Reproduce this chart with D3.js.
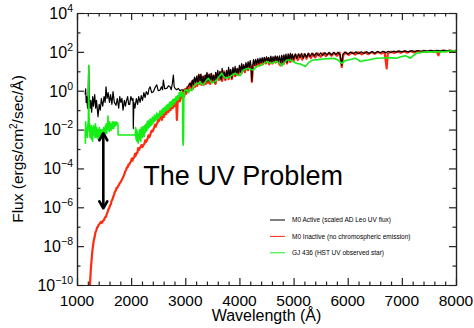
<!DOCTYPE html>
<html>
<head>
<meta charset="utf-8">
<script src="https://cdn.jsdelivr.net/npm/d3@7"></script>
<style>
  body { margin: 0; background: #fff; }
  svg { display: block; font-family: "Liberation Sans", Arial, Helvetica, sans-serif; }
  .axis path, .axis line { stroke: #222; stroke-width: 1.2; }
</style>
</head>
<body>
<div id="chart"></div>
<script>
// wavelength (Angstrom), log10 flux (ergs/cm2/sec/A)

// M0 Active (scaled AD Leo UV flux)
const activeSpectrum = [
  [1150, -0.2], [1160, 0.1], [1170, -0.6], [1180, -0.3], [1195, -0.9], [1205, -0.4], [1216, 1.3], [1225, -0.2],
  [1240, -0.9], [1255, -0.5], [1270, -1.1], [1290, -0.3], [1305, -0.8], [1327, -0.2], [1345, -0.9], [1360, -0.5],
  [1388, -1.34], [1410, -0.7], [1430, -1.0], [1450, -0.4], [1475, -0.8], [1500, -0.3], [1520, -0.6], [1536, 0.2],
  [1555, -0.4], [1575, -0.1], [1600, -0.6], [1620, -0.2], [1645, -0.7], [1665, -0.05], [1690, -0.6], [1720, -0.75],
  [1745, -0.4], [1770, -0.9], [1790, -0.3], [1810, -0.6], [1830, -0.4], [1850, -1.0], [1875, -0.5], [1895, -0.8],
  [1911, -0.55], [1935, -0.3], [1955, -0.7], [1974, -0.7], [1995, -0.3], [2020, -0.5], [2035, -0.4], [2040, -1.95],
  [2050, -0.6], [2070, -0.9], [2096, -0.4], [2120, -0.7], [2140, -0.3], [2165, -0.6], [2188, -0.25], [2210, -0.5],
  [2235, -0.1], [2257, -0.35], [2280, -0.05], [2310, -0.2], [2330, 0.1], [2350, 0.2], [2380, -0.1], [2410, -0.05],
  [2440, 0.15], [2473, 0.3], [2500, 0.0], [2534, 0.03], [2560, 0.2], [2580, 0.05], [2595, 0.55], [2620, 0.1],
  [2658, 0.12], [2690, 0.25], [2719, 0.2], [2740, 0.05], [2760, 0.35], [2780, 0.8], [2795, 0.2], [2811, 0.12],
  [2840, 0.05], [2872, 0.12], [2900, 0.0], [2930, 0.05], [2965, 0.03], [3000, -0.05], [3027, 0.12], [3060, 0.25],
  [3090, 0.4], [3110, 0.2], [3130, 0.55], [3150, 0.3], [3170, 0.7], [3190, 0.4], [3210, 0.75], [3230, 0.35],
  [3250, 0.85], [3273, 0.5], [3290, 0.85], [3310, 0.4], [3330, 0.75], [3350, 0.35], [3370, 0.8], [3385, 0.45],
  [3400, 0.95], [3420, 0.5], [3440, 0.85], [3460, 0.45], [3480, 0.9], [3500, 0.55], [3520, 0.8], [3540, 0.4],
  [3560, 0.95], [3580, 0.6], [3600, 1.05], [3620, 0.65], [3640, 1.0], [3660, 0.55], [3680, 1.15], [3700, 0.7],
  [3720, 0.95], [3740, 0.6], [3760, 1.05], [3780, 0.7], [3800, 1.2], [3820, 0.75], [3840, 1.1], [3860, 0.65],
  [3880, 1.2], [3900, 0.85], [3920, 1.25], [3940, 0.8], [3960, 1.15], [3980, 0.9], [4000, 1.3], [4020, 0.95],
  [4040, 1.4], [4060, 1.0], [4080, 1.35], [4100, 1.05], [4120, 1.45], [4140, 1.1], [4160, 1.5], [4180, 1.2],
  [4200, 1.55], [4215, 1.25], [4230, 0.5], [4245, 1.3], [4260, 1.6], [4280, 1.3], [4300, 1.62], [4320, 1.35],
  [4340, 1.65], [4360, 1.4], [4380, 1.68], [4400, 1.45], [4420, 1.7], [4440, 1.45], [4460, 1.72], [4480, 1.5],
  [4500, 1.75], [4520, 1.5], [4540, 1.72], [4560, 1.45], [4580, 1.78], [4600, 1.5], [4620, 1.75], [4640, 1.45],
  [4660, 1.8], [4680, 1.55], [4700, 1.78], [4720, 1.5], [4740, 1.8], [4760, 1.4], [4780, 1.82], [4800, 1.45],
  [4820, 1.85], [4840, 1.5], [4860, 1.88], [4880, 1.45], [4900, 1.9], [4920, 1.55], [4940, 1.92], [4960, 1.6],
  [4980, 1.88], [5000, 1.62], [5030, 1.9], [5060, 1.65], [5090, 1.9], [5120, 1.7], [5150, 1.92], [5180, 1.68],
  [5210, 1.9], [5240, 1.72], [5270, 1.93], [5300, 1.75], [5340, 1.94], [5380, 1.78], [5420, 1.95], [5460, 1.8],
  [5500, 1.95], [5540, 1.82], [5580, 1.96], [5620, 1.84], [5660, 1.97], [5700, 1.85], [5740, 1.97], [5780, 1.86],
  [5820, 1.98], [5860, 1.85], [5890, 1.3], [5910, 1.88], [5950, 1.99], [6000, 1.88], [6050, 1.99], [6100, 1.9],
  [6150, 2.0], [6200, 1.9], [6250, 2.0], [6300, 1.91], [6350, 2.01], [6400, 1.92], [6450, 2.02], [6500, 1.93],
  [6550, 2.02], [6600, 1.95], [6650, 2.03], [6700, 1.95], [6750, 2.03], [6800, 1.97], [6850, 2.04], [6900, 1.98],
  [6950, 2.05], [7000, 1.99], [7060, 2.05], [7120, 2.0], [7180, 2.06], [7240, 2.01], [7300, 2.07], [7360, 2.03],
  [7420, 2.07], [7480, 2.04], [7540, 2.08], [7600, 2.04], [7660, 2.08], [7720, 2.05], [7780, 2.08], [7840, 2.06],
  [7900, 2.08], [7960, 2.06], [8000, 2.07]
];

// M0 Inactive (no chromospheric emission)
const inactiveSpectrum = [
  [1232, -10.4], [1245, -9.7], [1258, -9.1], [1270, -8.7], [1282, -8.3], [1295, -8.0], [1310, -7.7], [1325, -7.55],
  [1340, -7.3], [1355, -7.2], [1370, -7.05], [1385, -7.0], [1400, -6.9], [1420, -6.85], [1440, -6.75], [1460, -6.8],
  [1480, -6.7], [1500, -6.65], [1520, -6.5], [1535, -6.5], [1549, -6.35], [1565, -6.25], [1580, -6.1], [1595, -6.05],
  [1610, -5.9], [1625, -5.85], [1640, -5.65], [1655, -5.6], [1670, -5.45], [1685, -5.35], [1700, -5.2], [1715, -5.15],
  [1730, -5.0], [1745, -5.0], [1760, -4.9], [1775, -4.85], [1790, -4.75], [1808, -4.7], [1826, -4.6], [1843, -4.5],
  [1860, -4.4], [1875, -4.3], [1890, -4.15], [1905, -4.1], [1920, -3.95], [1935, -3.95], [1950, -3.8], [1965, -3.8],
  [1980, -3.7], [1995, -3.65], [2010, -3.5], [2025, -3.6], [2040, -3.45], [2055, -3.45], [2070, -3.25], [2085, -3.35],
  [2100, -3.2], [2115, -3.2], [2130, -2.95], [2145, -3.05], [2160, -2.95], [2175, -2.9], [2190, -2.8], [2208, -2.9],
  [2225, -2.8], [2242, -2.75], [2260, -2.55], [2275, -2.65], [2290, -2.55], [2305, -2.45], [2320, -2.3], [2335, -2.4],
  [2350, -2.3], [2365, -2.15], [2380, -2.05], [2395, -2.1], [2410, -2.0], [2425, -1.9], [2440, -1.75], [2456, -1.85],
  [2472, -1.7], [2486, -1.65], [2500, -1.5], [2516, -1.55], [2533, -1.4], [2550, -1.25], [2570, -1.5], [2590, -1.1],
  [2610, -1.35], [2630, -0.95], [2650, -1.2], [2670, -0.85], [2690, -1.1], [2710, -0.75], [2730, -1.0], [2750, -0.65],
  [2770, -0.9], [2790, -0.55], [2810, -0.8], [2830, -0.45], [2845, -1.5], [2860, -0.55], [2880, -0.3], [2900, -0.55],
  [2920, -0.15], [2940, -0.4], [2960, 0.0], [2980, -0.3], [3000, 0.1], [3020, -0.15], [3040, 0.2], [3060, -0.05],
  [3080, 0.35], [3100, 0.05], [3120, 0.45], [3140, 0.1], [3160, 0.55], [3180, 0.2], [3200, 0.6], [3220, 0.25],
  [3240, 0.75], [3260, 0.35], [3280, 0.8], [3300, 0.3], [3320, 0.7], [3340, 0.3], [3360, 0.75], [3380, 0.35],
  [3400, 0.85], [3420, 0.4], [3440, 0.8], [3460, 0.35], [3480, 0.85], [3500, 0.45], [3530, 0.75], [3560, 0.35],
  [3590, 0.9], [3620, 0.55], [3650, 0.95], [3680, 0.5], [3710, 1.0], [3740, 0.55], [3770, 1.0], [3800, 0.6],
  [3830, 1.05], [3860, 0.6], [3890, 1.1], [3920, 0.75], [3950, 1.1], [3980, 0.8], [4010, 1.2], [4040, 0.9],
  [4070, 1.3], [4100, 0.95], [4130, 1.35], [4160, 1.05], [4190, 1.4], [4215, 1.15], [4230, 0.45], [4250, 1.2],
  [4280, 1.5], [4310, 1.25], [4340, 1.55], [4370, 1.3], [4400, 1.6], [4430, 1.35], [4460, 1.65], [4490, 1.4],
  [4520, 1.65], [4550, 1.35], [4580, 1.7], [4610, 1.4], [4640, 1.7], [4670, 1.45], [4700, 1.72], [4730, 1.4],
  [4760, 1.3], [4790, 1.75], [4820, 1.38], [4850, 1.8], [4880, 1.4], [4910, 1.82], [4940, 1.48], [4970, 1.85],
  [5000, 1.52], [5040, 1.85], [5080, 1.58], [5120, 1.86], [5160, 1.6], [5200, 1.88], [5240, 1.65], [5280, 1.9],
  [5320, 1.68], [5360, 1.9], [5400, 1.72], [5450, 1.92], [5500, 1.75], [5550, 1.93], [5600, 1.78], [5650, 1.94],
  [5700, 1.8], [5750, 1.95], [5800, 1.8], [5850, 1.96], [5890, 1.22], [5920, 1.85], [5970, 1.96], [6020, 1.84],
  [6080, 1.97], [6140, 1.86], [6200, 1.98], [6260, 1.87], [6320, 1.98], [6380, 1.88], [6440, 1.99], [6500, 1.9],
  [6560, 2.0], [6620, 1.91], [6680, 2.0], [6720, 1.15], [6740, 1.93], [6800, 2.01], [6860, 1.94], [6920, 2.02],
  [6980, 1.95], [7040, 2.03], [7100, 1.96], [7160, 2.04], [7220, 1.97], [7280, 2.04], [7340, 1.98], [7400, 2.05],
  [7460, 1.99], [7520, 2.05], [7580, 2.0], [7640, 2.05], [7675, 1.82], [7700, 2.02], [7760, 2.06], [7820, 2.02],
  [7880, 2.06], [7940, 2.03], [8000, 2.06]
];

// GJ 436 (HST UV observed star)
const gj436Spectrum = [
  [1150, -2.0], [1155, -2.7], [1160, -1.6], [1170, -2.3], [1180, -1.9], [1190, -2.4], [1200, -1.8], [1210, -1.5],
  [1216, 1.3], [1222, -1.2], [1228, -2.1], [1234, -1.7], [1240, -2.4], [1246, -1.8], [1252, -2.2], [1258, -1.9],
  [1264, -2.5], [1270, -1.8], [1276, -2.3], [1282, -2.0], [1288, -2.6], [1294, -1.9], [1300, -2.3], [1308, -1.8],
  [1316, -2.2], [1324, -2.0], [1332, -2.4], [1340, -1.7], [1348, -2.2], [1356, -2.4], [1364, -1.9], [1372, -2.3],
  [1380, -2.0], [1388, -2.5], [1396, -2.1], [1404, -2.35], [1412, -1.9], [1420, -2.3], [1428, -2.1], [1436, -2.45],
  [1444, -2.0], [1452, -2.3], [1460, -2.1], [1468, -2.4], [1476, -2.0], [1484, -2.25], [1492, -1.9], [1500, -2.2],
  [1508, -1.95], [1516, -2.3], [1524, -1.8], [1532, -2.1], [1540, -1.7], [1548, -2.2], [1556, -1.9], [1564, -2.0],
  [1572, -1.3], [1580, -2.0], [1588, -1.7], [1596, -2.1], [1604, -1.6], [1612, -1.95], [1620, -1.7], [1628, -2.05],
  [1636, -1.75], [1644, -1.95], [1652, -1.6], [1660, -1.9], [1668, -1.7], [1676, -1.95], [1684, -1.6], [1692, -1.85],
  [1700, -1.65], [1710, -1.8], [1720, -1.6], [1730, -1.75], [1745, -1.65], [1758, -1.8], [1760, -2.28], [2077, -2.28],
  [2082, -1.9], [2090, -2.5], [2098, -2.0], [2106, -2.6], [2114, -2.1], [2122, -2.45], [2130, -2.7], [2138, -2.2],
  [2146, -2.55], [2154, -2.0], [2162, -2.45], [2170, -2.1], [2178, -2.6], [2186, -1.9], [2194, -2.3], [2202, -2.0],
  [2210, -2.4], [2218, -1.85], [2226, -2.25], [2234, -1.9], [2242, -2.35], [2250, -1.8], [2258, -2.15], [2266, -1.75],
  [2274, -2.1], [2282, -1.7], [2290, -2.05], [2298, -1.6], [2306, -1.95], [2314, -1.55], [2322, -1.9], [2330, -1.6],
  [2340, -1.85], [2350, -1.45], [2360, -1.8], [2370, -1.5], [2380, -1.75], [2390, -1.35], [2400, -1.7], [2410, -1.4],
  [2420, -1.6], [2430, -1.25], [2440, -1.55], [2450, -1.3], [2462, -1.5], [2473, -1.15], [2485, -1.45], [2500, -1.2],
  [2515, -1.4], [2530, -1.05], [2545, -1.3], [2560, -1.0], [2575, -1.25], [2590, -0.9], [2605, -1.15], [2620, -0.85],
  [2635, -1.05], [2650, -0.75], [2665, -1.0], [2680, -0.7], [2695, -0.95], [2710, -0.6], [2725, -0.85], [2740, -0.55],
  [2755, -0.8], [2770, -0.45], [2785, -0.7], [2800, -0.4], [2815, -0.6], [2830, -0.3], [2845, -0.5], [2860, -0.25],
  [2875, -0.45], [2890, -0.1], [2905, -0.3], [2920, -0.05], [2935, -0.25], [2948, -0.1], [2955, -2.6], [2962, -2.8],
  [2968, -2.2], [2974, -0.3], [2990, 0.0], [3027, 0.05], [3060, -0.1], [3090, 0.1], [3120, 0.0], [3150, 0.2],
  [3180, 0.3], [3210, 0.4], [3240, 0.35], [3273, 0.46], [3300, 0.35], [3335, 0.3], [3380, 0.5], [3427, 0.64],
  [3460, 0.5], [3490, 0.4], [3530, 0.45], [3580, 0.55], [3630, 0.75], [3675, 0.9], [3705, 0.75], [3735, 0.64],
  [3780, 0.68], [3828, 0.72], [3870, 0.82], [3920, 0.9], [3970, 0.8], [4013, 0.78], [4045, 0.95], [4075, 1.07],
  [4120, 1.12], [4167, 1.15], [4210, 1.1], [4260, 1.07], [4290, 1.18], [4320, 1.24], [4370, 1.28], [4414, 1.32],
  [4460, 1.42], [4505, 1.5], [4550, 1.45], [4598, 1.4], [4640, 1.47], [4690, 1.5], [4740, 1.42], [4783, 1.28],
  [4830, 1.45], [4875, 1.58], [4935, 1.58], [4990, 1.5], [5060, 1.4], [5120, 1.38], [5180, 1.3], [5220, 1.25],
  [5280, 1.45], [5330, 1.55], [5365, 1.58], [5450, 1.6], [5550, 1.63], [5650, 1.65], [5735, 1.67], [5810, 1.6],
  [5890, 1.41], [5950, 1.55], [6010, 1.58], [6070, 1.62], [6135, 1.67], [6190, 1.6], [6230, 1.5], [6300, 1.55],
  [6380, 1.58], [6460, 1.63], [6535, 1.67], [6620, 1.68], [6720, 1.7], [6810, 1.69], [6905, 1.67], [6980, 1.75],
  [7060, 1.8], [7110, 1.75], [7150, 1.67], [7210, 1.8], [7275, 1.93], [7350, 1.97], [7440, 2.0], [7520, 2.0],
  [7600, 2.0], [7680, 2.01], [7765, 2.0], [7850, 2.03], [7930, 2.05], [8000, 2.06]
];

const xMajorTicks = [1000, 2000, 3000, 4000, 5000, 6000, 7000, 8000];
const yLabelExponents = [4, 2, 0, -2, -4, -6, -8, -10];
const yTickExponents = [4, 3, 2, 1, 0, -1, -2, -3, -4, -5, -6, -7, -8, -9, -10];

const legendItems = [
  {label: 'M0 Active (scaled AD Leo UV flux)', color: '#000000'},
  {label: 'M0 Inactive (no chromospheric emission)', color: '#ff2a10'},
  {label: 'GJ 436 (HST UV observed star)', color: '#15ee15'}
];

// annotation: the double arrow and its caption, in data units
const arrowWavelength = 1486;
const arrowFromExp = -2.19;
const arrowToExp = -6.05;

const width = 474;
const height = 328;
const margin = {top: 13, right: 18, bottom: 43, left: 77};

const svg = d3.select('#chart')
  .append('svg')
  .attr('width', width)
  .attr('height', height);

const x = d3.scaleLinear()
  .domain([1000, 8000])
  .range([margin.left, width - margin.right]);

const y = d3.scaleLog()
  .domain([1e-10, 1e4])
  .range([height - margin.bottom, margin.top]);

svg.append('defs')
  .append('clipPath')
  .attr('id', 'plot-clip')
  .append('rect')
  .attr('x', margin.left)
  .attr('y', margin.top)
  .attr('width', x.range()[1] - margin.left)
  .attr('height', y.range()[0] - margin.top);

const line = d3.line()
  .x(d => x(d[0]))
  .y(d => y(Math.pow(10, d[1])));

const plot = svg.append('g').attr('clip-path', 'url(#plot-clip)');

plot.append('path')
  .datum(inactiveSpectrum)
  .attr('d', line)
  .attr('fill', 'none')
  .attr('stroke', legendItems[1].color)
  .attr('stroke-width', 2.2)
  .attr('stroke-linejoin', 'round');

plot.append('path')
  .datum(activeSpectrum)
  .attr('d', line)
  .attr('fill', 'none')
  .attr('stroke', legendItems[0].color)
  .attr('stroke-width', 1.2)
  .attr('stroke-linejoin', 'round');

plot.append('path')
  .datum(gj436Spectrum)
  .attr('d', line)
  .attr('fill', 'none')
  .attr('stroke', legendItems[2].color)
  .attr('stroke-width', 1.6)
  .attr('stroke-linejoin', 'round');

// axes: ticks pointing inwards on all four sides
const xMinorTicks = d3.range(1000, 8001, 200).filter(v => v % 1000 !== 0);
const yTicks = yTickExponents.map(e => Math.pow(10, e));
const yMajor = yLabelExponents.map(e => Math.pow(10, e));
const yMinor = yTicks.filter(v => !yMajor.includes(v));

function addAxis(axisFn, scale, values, size, transform) {
  svg.append('g')
    .attr('class', 'axis')
    .attr('transform', transform)
    .call(axisFn(scale).tickValues(values).tickSizeInner(-size).tickSizeOuter(0).tickFormat(''));
}

const bottomY = y.range()[0];
const rightX = x.range()[1];

addAxis(d3.axisBottom, x, xMajorTicks, 7, `translate(0,${bottomY})`);
addAxis(d3.axisBottom, x, xMinorTicks, 3.5, `translate(0,${bottomY})`);
addAxis(d3.axisTop, x, xMajorTicks, 7, `translate(0,${margin.top})`);
addAxis(d3.axisTop, x, xMinorTicks, 3.5, `translate(0,${margin.top})`);
addAxis(d3.axisLeft, y, yMajor, 7, `translate(${margin.left},0)`);
addAxis(d3.axisLeft, y, yMinor, 3.5, `translate(${margin.left},0)`);
addAxis(d3.axisRight, y, yMajor, 7, `translate(${rightX},0)`);
addAxis(d3.axisRight, y, yMinor, 3.5, `translate(${rightX},0)`);

// x tick labels
svg.append('g')
  .selectAll('text')
  .data(xMajorTicks)
  .enter()
  .append('text')
  .attr('x', d => x(d))
  .attr('y', bottomY + 20.5)
  .attr('text-anchor', 'middle')
  .style('font-size', '15.5px')
  .text(d => d);

// y tick labels as 10 with superscript exponent
const yLabels = svg.append('g')
  .selectAll('text')
  .data(yLabelExponents)
  .enter()
  .append('text')
  .attr('x', margin.left - 4)
  .attr('y', d => y(Math.pow(10, d)) + 5.8)
  .attr('text-anchor', 'end')
  .style('font-size', '16px');

yLabels.append('tspan').text('10');
yLabels.append('tspan')
  .attr('dy', -7)
  .style('font-size', '10.5px')
  .text(d => d < 0 ? '\u2212' + Math.abs(d) : d);

// axis titles
svg.append('text')
  .attr('x', (margin.left + rightX) / 2)
  .attr('y', 321)
  .attr('text-anchor', 'middle')
  .style('font-size', '16px')
  .text('Wavelength (Å)');

const yTitle = svg.append('text')
  .attr('transform', `translate(23,${(margin.top + bottomY) / 2}) rotate(-90)`)
  .attr('text-anchor', 'middle')
  .style('font-size', '15.5px');
yTitle.append('tspan').text('Flux (ergs/cm');
yTitle.append('tspan').attr('dy', -6).style('font-size', '10px').text('2');
yTitle.append('tspan').attr('dy', 6).text('/sec/Å)');

// annotation
const ax = x(arrowWavelength);
const ay0 = y(Math.pow(10, arrowFromExp));
const ay1 = y(Math.pow(10, arrowToExp));
const arrow = svg.append('g')
  .attr('stroke', '#000')
  .attr('stroke-width', 2.6)
  .attr('fill', 'none')
  .attr('stroke-linecap', 'round')
  .attr('stroke-linejoin', 'round');
arrow.append('line').attr('x1', ax).attr('x2', ax).attr('y1', ay0 + 1).attr('y2', ay1 - 1);
arrow.append('path').attr('d', `M${ax - 4},${ay0 + 7}L${ax},${ay0}L${ax + 4},${ay0 + 7}`);
arrow.append('path').attr('d', `M${ax - 4},${ay1 - 7}L${ax},${ay1}L${ax + 4},${ay1 - 7}`);

svg.append('text')
  .attr('x', x(2225))
  .attr('y', y(Math.pow(10, -4.85)))
  .style('font-size', '27px')
  .text('The UV Problem');

// legend
const legend = svg.append('g')
  .selectAll('g')
  .data(legendItems)
  .enter()
  .append('g')
  .attr('transform', (d, i) => `translate(270,${220 + i * 16.4})`);

legend.append('line')
  .attr('x1', 0)
  .attr('x2', 15)
  .attr('stroke', d => d.color)
  .attr('stroke-width', 1);

legend.append('text')
  .attr('x', 22)
  .attr('y', 2.3)
  .style('font-size', '6.5px')
  .text(d => d.label);
</script>
</body>
</html>
